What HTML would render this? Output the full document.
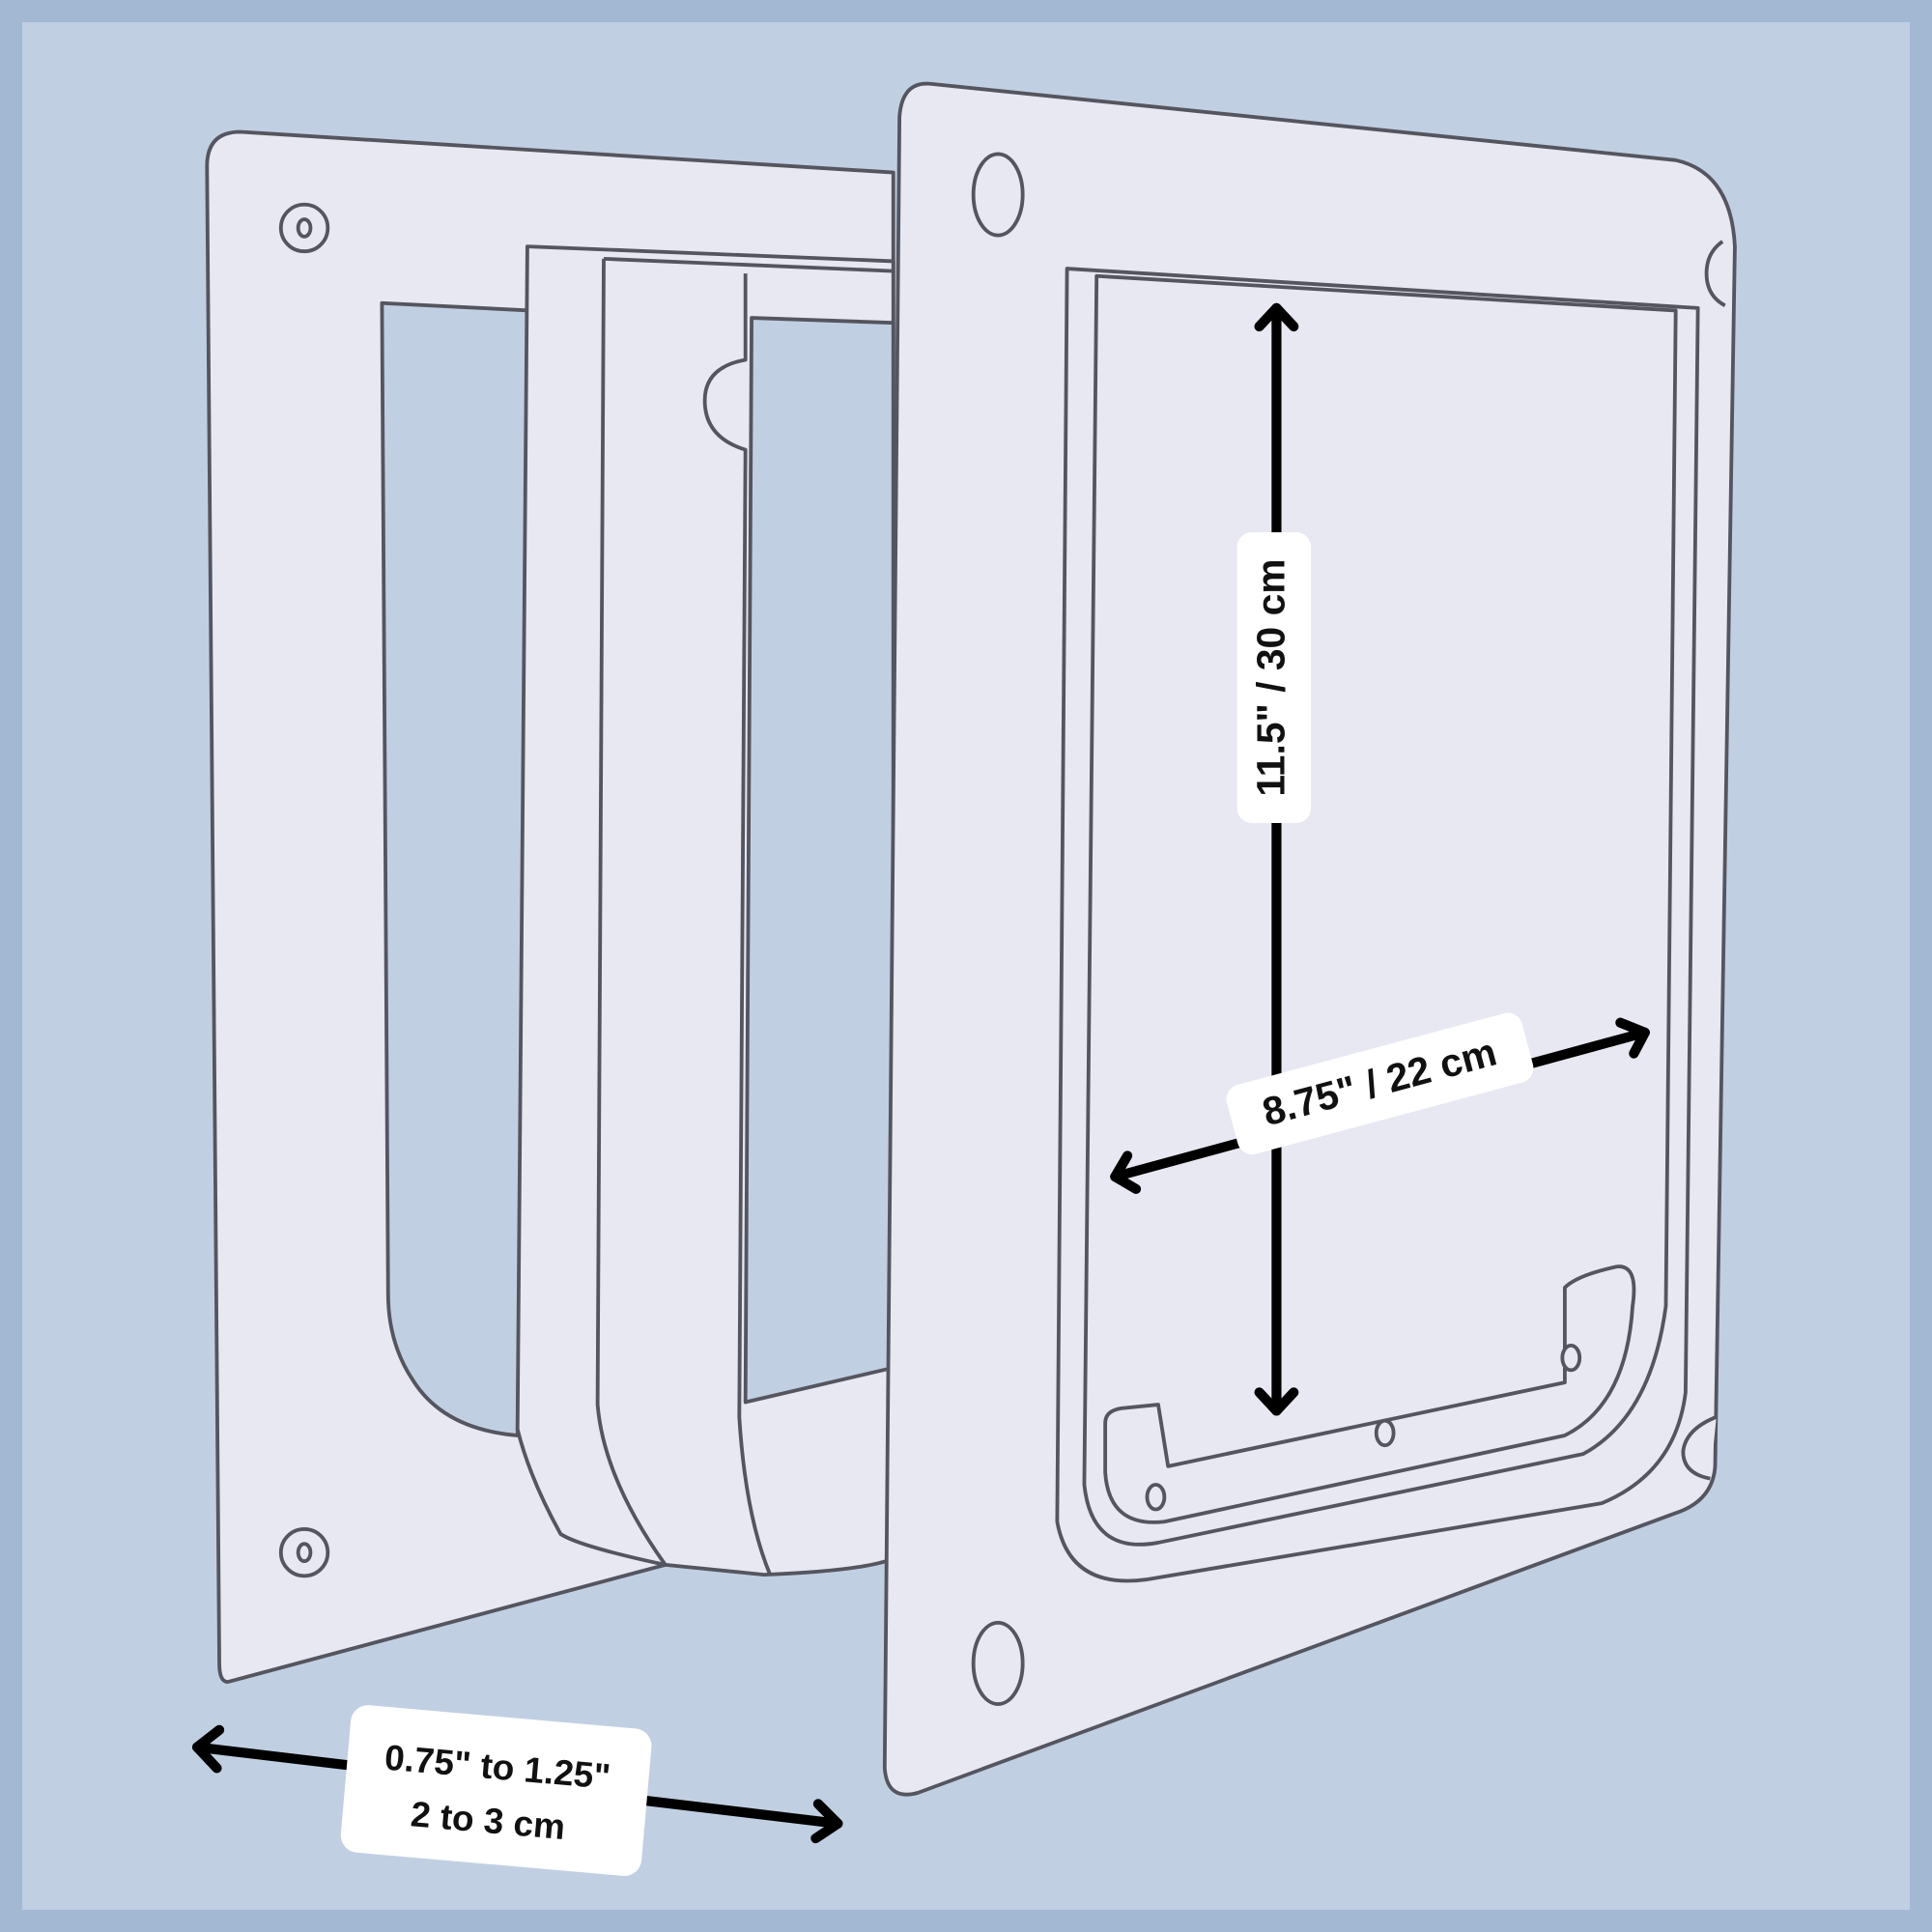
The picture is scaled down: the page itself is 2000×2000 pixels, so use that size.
<!DOCTYPE html>
<html><head><meta charset="utf-8"><style>
html,body{margin:0;padding:0;background:#a3b8d3}
svg{display:block}
text{font-family:"Liberation Sans",sans-serif;font-weight:bold;fill:#111}
</style></head><body>
<svg width="2000" height="2000" viewBox="0 0 1568 1568" xmlns="http://www.w3.org/2000/svg">
<rect width="1568" height="1568" fill="#a3b8d3"/>
<rect x="18" y="18" width="1532" height="1532" fill="#c1cfe2"/>
<g stroke="#555560" stroke-width="3" stroke-linejoin="round" fill="#e8e8f3">
<!-- back plate -->
<path d="M195,107 L725,140 L725,1110 L540,1270 L185,1365 Q178,1365 178,1350 L168,135 Q168,107 195,107 Z"/>
<path d="M310,246 L430,252 L420,1165 Q360,1160 335,1120 Q315,1090 315,1050 Z" fill="#c1cfe2"/>
<circle cx="247" cy="185" r="19"/><ellipse cx="247" cy="185" rx="5" ry="7"/>
<circle cx="247" cy="1260" r="19"/><ellipse cx="247" cy="1260" rx="5" ry="7"/>
<!-- tunnel -->
<path d="M428,200 L725,212 L725,1265 Q700,1275 620,1278 L540,1270 Q470,1255 455,1245 Q430,1200 420,1160 Z"/>
<path d="M610,258 L725,262 L725,1110 L605,1138 Z" fill="#c1cfe2"/>
<path d="M490,210 L725,220" fill="none"/>
<path d="M490,210 L485,1140 Q490,1200 540,1270" fill="none"/>
<path d="M605,222 L605,292 Q572,298 572,325 Q572,355 605,365 L600,1150 Q605,1230 625,1278" fill="none"/>
<!-- front plate -->
<path d="M755,68 L1360,130 Q1405,140 1408,200 L1392,1190 Q1390,1218 1360,1228 L745,1455 Q720,1462 718,1435 L730,95 Q732,66 755,68 Z"/>
<ellipse cx="810" cy="158" rx="20" ry="33"/>
<ellipse cx="810" cy="1350" rx="20" ry="33"/>
<path d="M1398,196 Q1385,205 1385,222 Q1385,240 1400,248"/>
<path d="M1393,1150 Q1368,1160 1366,1178 Q1366,1196 1388,1200"/>
<!-- opening -->
<path d="M866,218 L1378,250 L1368,1130 Q1360,1195 1300,1220 L930,1282 Q868,1290 858,1235 Z"/>
<path d="M890,224 L1360,252 L1352,1060 Q1340,1150 1285,1180 L940,1252 Q886,1262 880,1205 Z"/>
<path d="M897,1155 Q897,1145 910,1143 L940,1140 L948,1190 L1270,1122 L1270,1045 Q1280,1035 1312,1028 Q1330,1026 1325,1060 Q1320,1140 1270,1165 L945,1235 Q900,1240 897,1195 Z"/>
<ellipse cx="938" cy="1215" rx="7" ry="10"/>
<ellipse cx="1124" cy="1163" rx="7" ry="10"/>
<ellipse cx="1275" cy="1102" rx="7" ry="10"/>
</g>
<!-- arrows -->
<g stroke="#000" stroke-width="8" stroke-linecap="round" stroke-linejoin="round" fill="none">
<line x1="1036" y1="250" x2="1036" y2="1145"/>
<polyline points="1022,265 1036,250 1050,265"/>
<polyline points="1022,1130 1036,1145 1050,1130"/>
<line x1="905" y1="955" x2="1335" y2="838"/>
<polyline points="915,938 905,955 922,965"/>
<polyline points="1315,830 1335,838 1326,855"/>
<line x1="160" y1="1418" x2="680" y2="1480"/>
<polyline points="178,1404 160,1418 176,1435"/>
<polyline points="664,1464 680,1480 662,1492"/>
</g>
<!-- labels -->
<rect x="1004" y="432" width="60" height="236" rx="12" fill="#fff"/>
<text x="1034" y="550" font-size="32" text-anchor="middle" dominant-baseline="middle" transform="rotate(-90 1034 550)">11.5" / 30 cm</text>
<g transform="rotate(-15 1118 880)">
<rect x="996" y="851" width="248" height="58" rx="12" fill="#fff"/>
<text x="1120" y="881" font-size="32" text-anchor="middle" dominant-baseline="middle">8.75" / 22 cm</text>
</g>
<g transform="rotate(5 400 1455)">
<rect x="280" y="1393" width="245" height="120" rx="14" fill="#fff"/>
<text x="402" y="1436" font-size="29" text-anchor="middle" dominant-baseline="middle">0.75" to 1.25"</text>
<text x="398" y="1480" font-size="29" text-anchor="middle" dominant-baseline="middle">2 to 3 cm</text>
</g>
</svg>
</body></html>
